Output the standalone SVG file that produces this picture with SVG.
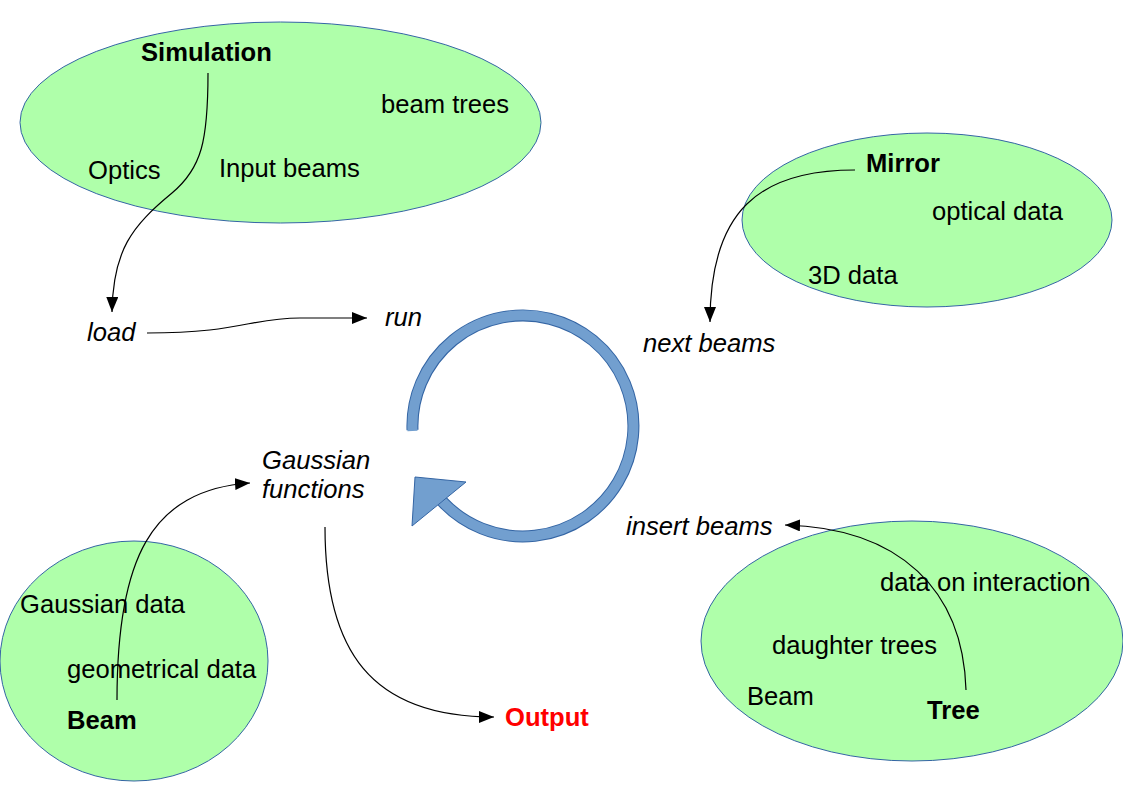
<svg xmlns="http://www.w3.org/2000/svg" width="1123" height="794" viewBox="0 0 1123 794">
<style>
.bg{fill:#ffffff}
.ell{fill:#afffaa;stroke:#3465a4;stroke-width:1}
text{font-family:"Liberation Sans",Arial,sans-serif;font-size:25.6px;fill:#000}
.b{font-weight:bold}
.i{font-style:italic}
.out{fill:#ff0000;font-weight:bold}
.con{fill:none;stroke:#000;stroke-width:1.2;marker-end:url(#ah)}
</style>
<defs>
<marker id="ah" markerUnits="userSpaceOnUse" markerWidth="16" markerHeight="12" refX="15" refY="6" orient="auto">
<path d="M0,0 L15,6 L0,12 Z" fill="#000"/>
</marker>
</defs>
<rect class="bg" x="0" y="0" width="1123" height="794"/>

<g id="simulation">
<ellipse class="ell" cx="280.5" cy="122.5" rx="260.5" ry="100.5"/>
<text class="b" x="141" y="61">Simulation</text>
<text x="381" y="113">beam trees</text>
<text x="88" y="179">Optics</text>
<text x="219" y="177">Input beams</text>
</g>

<g id="mirror">
<ellipse class="ell" cx="927" cy="220" rx="185" ry="87"/>
<text class="b" x="866" y="172">Mirror</text>
<text x="932" y="220">optical data</text>
<text x="808" y="284">3D data</text>
</g>

<g id="tree">
<ellipse class="ell" cx="912" cy="641" rx="211" ry="120"/>
<text x="880" y="591">data on interaction</text>
<text x="772" y="654">daughter trees</text>
<text x="747" y="705">Beam</text>
<text class="b" x="927" y="719">Tree</text>
</g>

<g id="beam">
<ellipse class="ell" cx="134" cy="661" rx="134" ry="120"/>
<text x="20" y="613">Gaussian data</text>
<text x="67" y="678">geometrical data</text>
<text class="b" x="67" y="729">Beam</text>
</g>

<g id="load"><text class="i" x="87" y="341">load</text></g>
<g id="run"><text class="i" x="385" y="326">run</text></g>
<g id="next-beams"><text class="i" x="643" y="352">next beams</text></g>
<g id="insert-beams"><text class="i" x="626" y="535">insert beams</text></g>
<g id="gaussian-functions"><text class="i" x="262" y="469">Gaussian</text><text class="i" x="262" y="498">functions</text></g>
<g id="output"><text class="out" x="505" y="726">Output</text></g>

<g id="cycle">
<path d="M412.5,430 A110.5,110.5 0 1 1 442.2,501.4" fill="none" stroke="#3465a4" stroke-width="12"/>
<path d="M412.5,431 A110.5,110.5 0 1 1 442.2,501.4" fill="none" stroke="#729fcf" stroke-width="10"/>
<polygon points="415,477 466,482 412,526" fill="#729fcf" stroke="#3465a4" stroke-width="1"/>
</g>

<g id="connectors">
<path class="con" d="M208,73 C208,140 202,168 172,193 C132,226 113,250 112,312"/>
<path class="con" d="M147,333 C240,333 250,318 300,318 L367,318"/>
<path class="con" d="M855,170 C760,170 710,210 710,322"/>
<path class="con" d="M966,690 C963,590 900,528 785,525"/>
<path class="con" d="M117,700 C117,560 150,490 250,483"/>
<path class="con" d="M325,527 C325,650 370,717 494,717"/>
</g>
</svg>
